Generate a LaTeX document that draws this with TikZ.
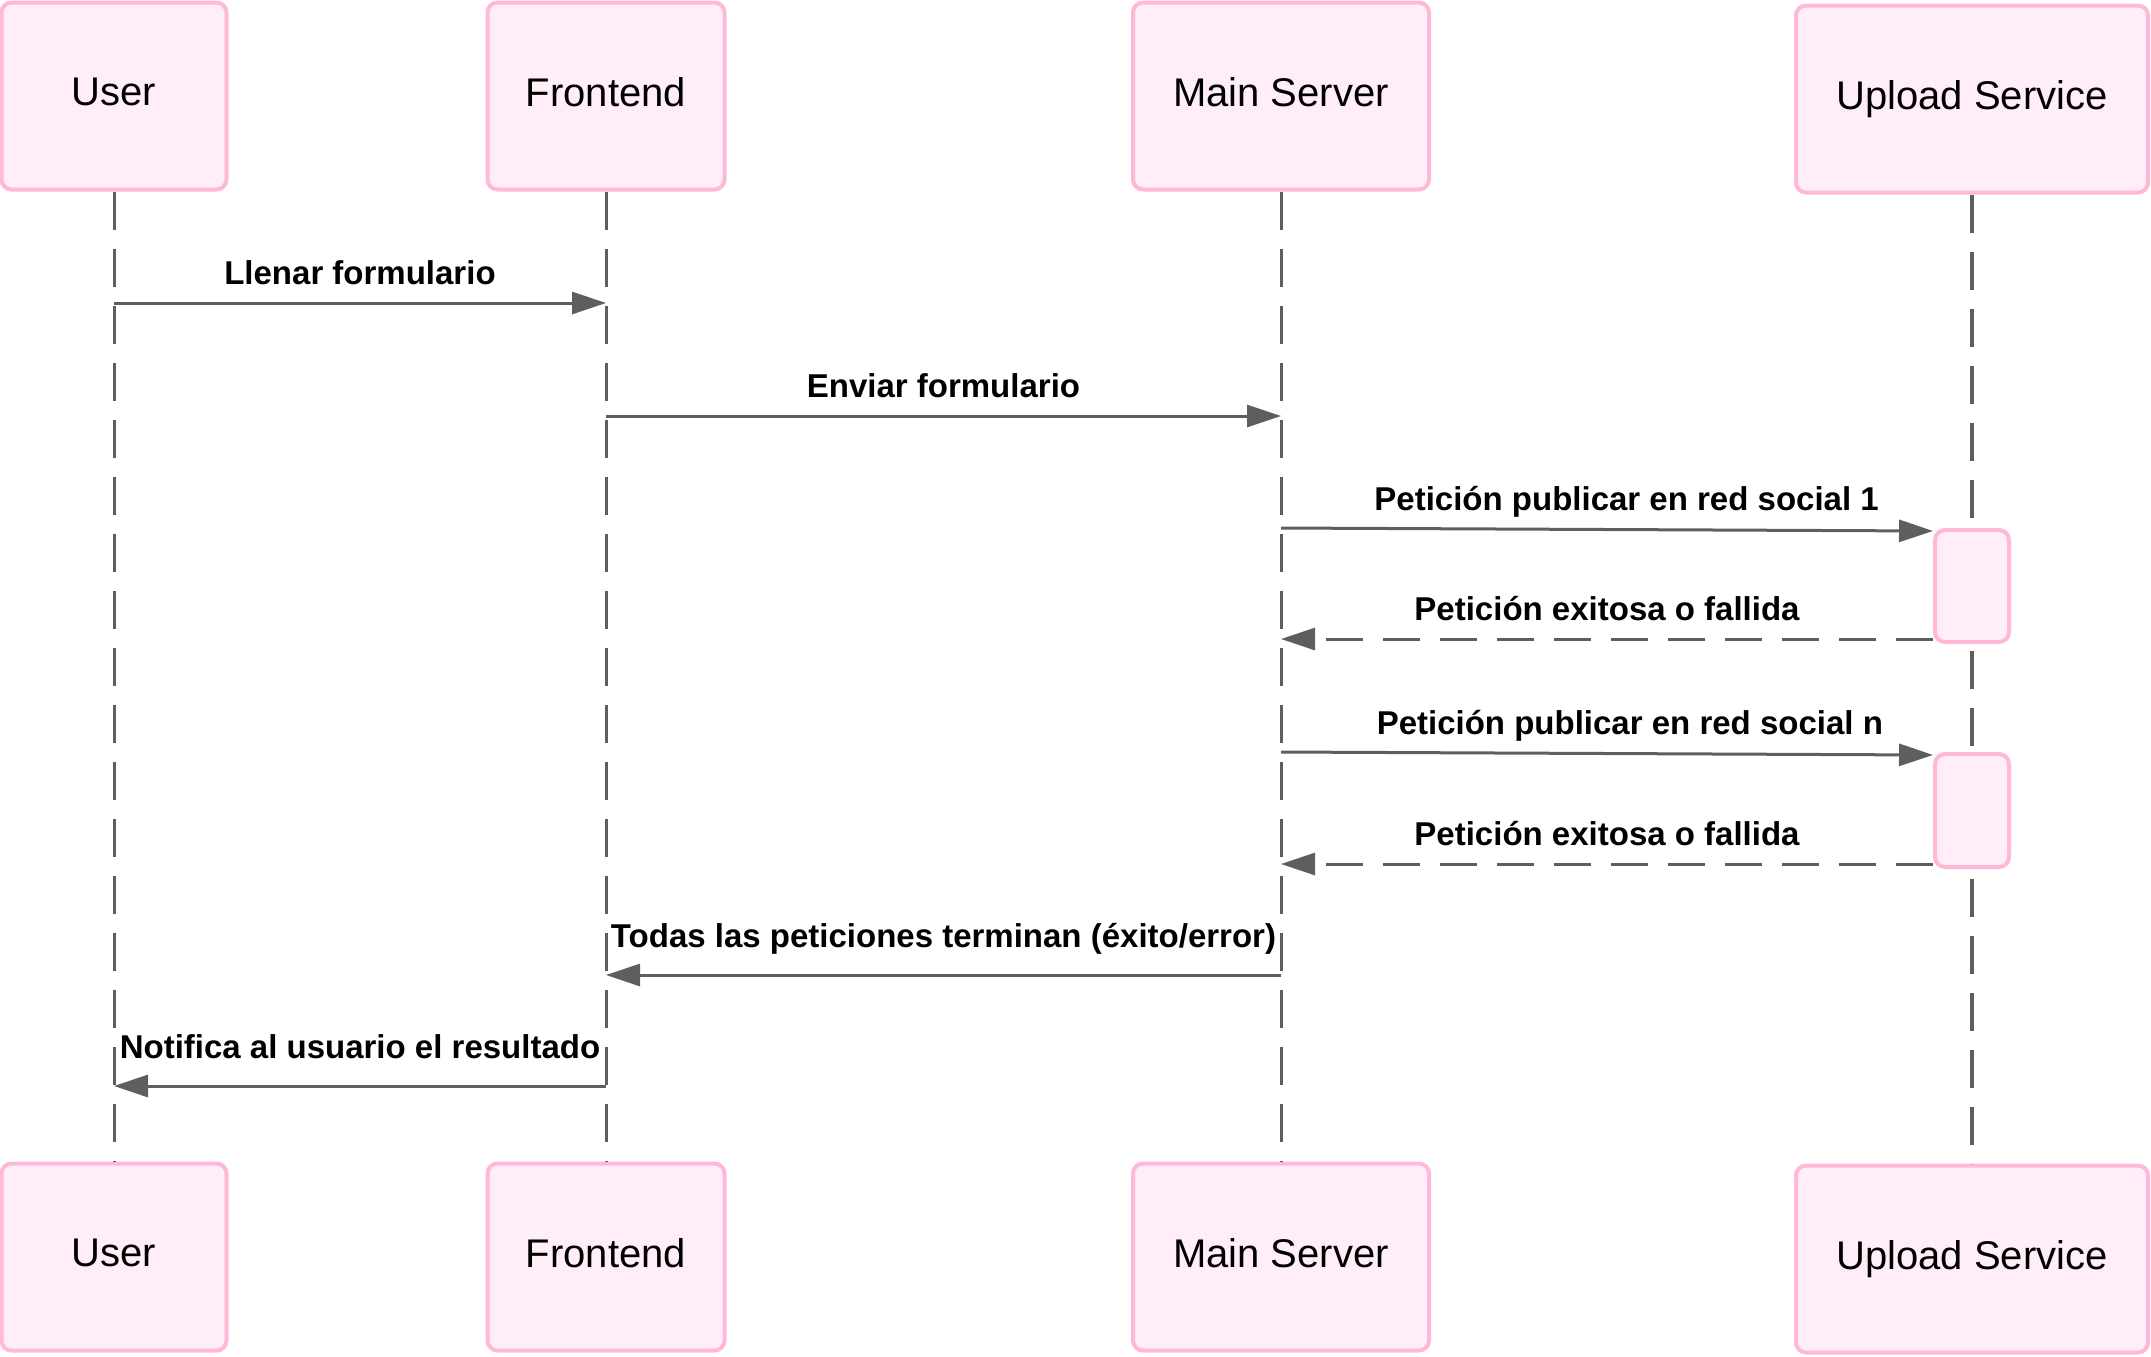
\documentclass[tikz,border=0pt]{standalone}
\usepackage{fontspec}
\setmainfont{Liberation Sans}
\usetikzlibrary{arrows.meta}
\definecolor{boxfill}{HTML}{FFEEF8}
\definecolor{boxline}{HTML}{FFB8D8}
\definecolor{linegray}{HTML}{5E5E5E}

\begin{document}
\begin{tikzpicture}[x=0.5pt,y=-0.5pt,
		actor/.style={draw=boxline,fill=boxfill,line width=2pt,rounded corners=5pt,minimum height=93.5pt,text depth=4.2pt,font=\fontsize{20}{24}\selectfont},
		lifeline/.style={draw=linegray,line width=1.5pt,dash pattern=on 19pt off 9.5pt},
		act/.style={draw=boxline,fill=boxfill,line width=2pt,rounded corners=5pt,minimum width=37pt,minimum height=56pt},
		msg/.style={draw=linegray,line width=1.5pt,-{Triangle[length=17pt,width=11pt]}},
		reply/.style={msg,dash pattern=on 18.5pt off 10pt},
		lbl/.style={font=\bfseries\fontsize{16.5}{20}\selectfont,anchor=base,yshift=9.5pt,inner sep=0pt}]
				\useasboundingbox (0,0) rectangle (2151,1356);

				\node[actor,minimum width=112.5pt] (user) at (114,96) {User};
				\node[actor,minimum width=118.5pt] (front) at (606,96) {Frontend};
				\node[actor,minimum width=148pt] (server) at (1281,96) {Main Server};
				\node[actor,minimum width=176pt] (upload) at (1972,99) {Upload Service};

				\node[actor,minimum width=112.5pt] (userB) at (114,1257) {User};
				\node[actor,minimum width=118.5pt] (frontB) at (606,1257) {Frontend};
				\node[actor,minimum width=148pt] (serverB) at (1281,1257) {Main Server};
				\node[actor,minimum width=176pt] (uploadB) at (1972,1259) {Upload Service};

				\draw[lifeline] (user) -- (userB);
				\draw[lifeline] (front) -- (frontB);
				\draw[lifeline] (server) -- (serverB);
				\draw[lifeline,line width=2pt] (upload) -- (uploadB);

				\node[act] (act1) at (1972,586) {};
				\node[act,minimum height=56.5pt] (act2) at (1972,810.5) {};

				\coordinate (m1) at (0,303);
				\coordinate (m2) at (0,416);
				\coordinate (m3) at (0,528);
				\coordinate (m4) at (0,639);
				\coordinate (m5) at (0,752);
				\coordinate (m6) at (0,864);
				\coordinate (m7) at (0,975);
				\coordinate (m8) at (0,1086);

				\draw[msg] (user |- m1) -- node[lbl] (l1) {Llenar formulario} (front |- m1);
				\draw[msg] (front |- m2) -- node[lbl] (l2) {Enviar formulario} (server |- m2);
				\draw[msg] (server |- m3) -- node[lbl,pos=0.53] (l3) {Petición publicar en red social 1} ([yshift=-1.5pt]act1.north west);
				\draw[reply] (act1.west |- m4) -- node[lbl] (l4) {Petición exitosa o fallida} (server |- m4);
				\draw[msg] (server |- m5) -- node[lbl,pos=0.535] (l5) {Petición publicar en red social n} ([yshift=-1.5pt]act2.north west);
				\draw[reply] (act2.west |- m6) -- node[lbl] (l6) {Petición exitosa o fallida} (server |- m6);
				\draw[msg] (server |- m7) -- node[lbl,yshift=4.5pt] (l7) {Todas las peticiones terminan (éxito/error)} (front |- m7);
				\draw[msg] (front |- m8) -- node[lbl,yshift=4.5pt] (l8) {Notifica al usuario el resultado} (user |- m8);
\end{tikzpicture}
\end{document}
